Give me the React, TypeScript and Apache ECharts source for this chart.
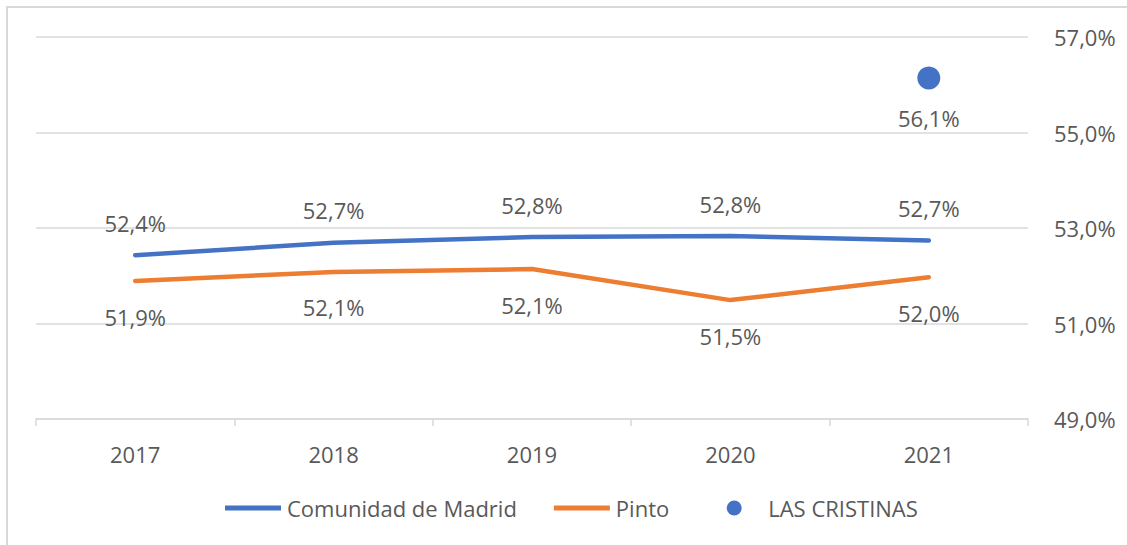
import React, { useEffect, useRef } from "react";
import * as echarts from "echarts";

const years = ["2017", "2018", "2019", "2020", "2021"];
const madrid = [52.43, 52.69, 52.81, 52.83, 52.74];
const pinto = [51.89, 52.08, 52.14, 51.49, 51.97];
const cristinas = [null, null, null, null, 56.14];
const seriesNames = ["Comunidad de Madrid", "Pinto", "LAS CRISTINAS"];

const FONT = "'Open Sans', 'Noto Sans', sans-serif";
const TXT = "#595959";
const GRID = "#d9d9d9";
const BLUE = "#4472C4";
const ORANGE = "#ED7D31";
const FS = 22;

const fmt = (v: number) => v.toFixed(1).replace(".", ",") + "%";

export default function App() {
  const ref = useRef<HTMLDivElement>(null);
  useEffect(() => {
    if (!ref.current) return;
    const chart = echarts.init(ref.current, undefined, { renderer: "svg" });
    const lineIcon = "path://M0,0M56,15M0,5L56,5L56,10L0,10Z";
    const dotIcon = "path://M0,0M56,15M20.5,7.5a7.5,7.5 0 1,0 15,0a7.5,7.5 0 1,0 -15,0Z";
    chart.setOption({
      animation: false,
      textStyle: { fontFamily: FONT },
      graphic: [
        {
          type: "rect",
          shape: { x: 7, y: 7, width: 1130, height: 545 },
          style: { fill: "none", stroke: GRID, lineWidth: 2 },
          silent: true,
        },
      ],
      grid: { left: 36, right: 99, top: 37, bottom: 126, containLabel: false },
      legend: {
        left: 220,
        top: 492,
        itemWidth: 58,
        itemHeight: 15,
        itemGap: 37,
        textStyle: { color: TXT, fontSize: FS, fontFamily: FONT },
        data: [
          { name: seriesNames[0], icon: lineIcon, itemStyle: { color: BLUE, opacity: 1 } },
          { name: seriesNames[1], icon: lineIcon, itemStyle: { color: ORANGE, opacity: 1 } },
          { name: seriesNames[2], icon: dotIcon, itemStyle: { color: BLUE, opacity: 1 } },
        ],
        selectedMode: false,
      },
      xAxis: {
        type: "category",
        data: years,
        boundaryGap: true,
        axisLine: { lineStyle: { color: GRID, width: 1.5 } },
        axisTick: { show: true, length: 7, lineStyle: { color: GRID, width: 1.5 } },
        axisLabel: { color: TXT, fontSize: FS, fontFamily: FONT, margin: 24 },
        splitLine: { show: false },
      },
      yAxis: {
        type: "value",
        position: "right",
        min: 49,
        max: 57,
        interval: 2,
        axisLine: { show: false },
        axisTick: { show: false },
        axisLabel: {
          color: TXT,
          fontSize: FS,
          fontFamily: FONT,
          margin: 26,
          formatter: (v: number) => fmt(v),
        },
        splitLine: { lineStyle: { color: GRID, width: 1.5 } },
      },
      series: [
        {
          name: seriesNames[0],
          type: "line",
          data: madrid,
          symbol: "circle",
          symbolSize: 1,
          showSymbol: true,
          itemStyle: { color: BLUE },
          lineStyle: { color: BLUE, width: 4.5, cap: "round" },
          label: {
            show: true,
            position: "top",
            distance: 21,
            color: TXT,
            fontSize: FS,
            fontFamily: FONT,
            formatter: (p: any) => fmt(p.value),
          },
          z: 3,
        },
        {
          name: seriesNames[1],
          type: "line",
          data: pinto,
          symbol: "circle",
          symbolSize: 1,
          showSymbol: true,
          itemStyle: { color: ORANGE },
          lineStyle: { color: ORANGE, width: 4.5, cap: "round" },
          label: {
            show: true,
            position: "bottom",
            distance: 24,
            color: TXT,
            fontSize: FS,
            fontFamily: FONT,
            formatter: (p: any) => fmt(p.value),
          },
          z: 2,
        },
        {
          name: seriesNames[2],
          type: "scatter",
          data: cristinas,
          symbol: "circle",
          symbolSize: 23,
          itemStyle: { color: BLUE, opacity: 1 },
          label: {
            show: true,
            position: "bottom",
            distance: 17,
            color: TXT,
            fontSize: FS,
            fontFamily: FONT,
            formatter: (p: any) => fmt(p.value),
          },
        },
      ],
    });
    return () => chart.dispose();
  }, []);
  return (
    <div
      ref={ref}
      style={{ position: "fixed", left: 0, top: 0, width: 1127, height: 545, background: "#fff" }}
    />
  );
}
